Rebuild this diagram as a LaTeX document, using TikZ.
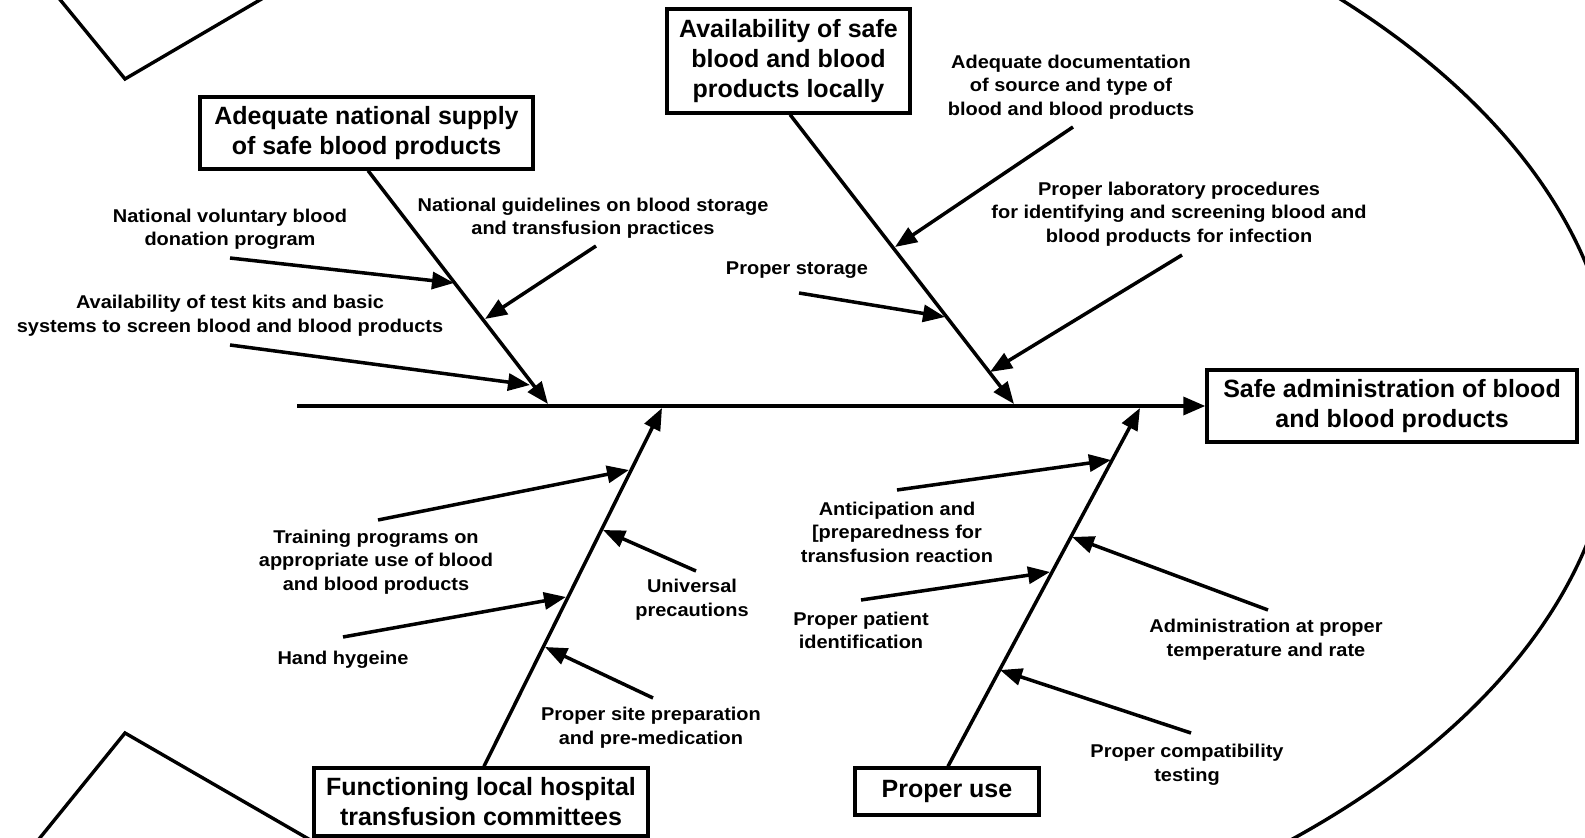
\documentclass[tikz,border=0pt]{standalone}
\usepackage{fontspec}
\setmainfont{Liberation Sans}
\newfontfamily\lblfam[FakeStretch=1.08]{Liberation Sans Bold}
\newfontfamily\boxfam{Liberation Sans Bold}
\usetikzlibrary{arrows.meta}
\tikzset{
  box/.style={draw, line width=1.7pt, inner sep=0pt, align=center,
    font=\boxfam\fontsize{12.5pt}{15pt}\selectfont},
  lbl/.style={align=center, inner sep=0pt, yshift=-1pt,
    font=\lblfam\fontsize{9.25pt}{11.75pt}\selectfont},
  bone/.style={line width=1.75pt, -{Triangle[length=11pt,width=8.5pt]}},
  cause/.style={line width=1.75pt, -{Triangle[length=11pt,width=8.5pt]}},
  outline/.style={line width=1.7pt, line join=miter},
}
\begin{document}
\begin{tikzpicture}[x=0.5pt,y=-0.5pt]
\useasboundingbox (0,0) rectangle (1585,838);
\clip (0,0) rectangle (1585,838);
\fill[white] (0,0) rectangle (1585,838);

% fish outline
\draw[outline] (573,405) ellipse [x radius=1042, y radius=600];
\draw[outline] (44,-20) -- (125,79) -- (294,-20);
\draw[outline] (22,860) -- (125,733) -- (345,860);

% boxes
\node[box, minimum width=166.5pt, minimum height=36pt] (A) at (366.5,133)
  {Adequate national supply\\of safe blood products};
\node[box, minimum width=121.5pt, minimum height=52pt] (B) at (788.5,61)
  {Availability of safe\\blood and blood\\products locally};
\node[box, minimum width=167pt, minimum height=34pt] (C) at (481,802)
  {Functioning local hospital\\transfusion committees};
\node[box, minimum width=92pt, minimum height=23.5pt] (D) at (947,791.5)
  {Proper use};
\node[box, minimum width=185pt, minimum height=36pt] (E) at (1392,406)
  {Safe administration of blood\\and blood products};

% spine and bones
\coordinate (spL) at (297,406);
\coordinate (sA) at (548,404);
\coordinate (sB) at (1014,404);
\coordinate (sC) at (662,408);
\coordinate (sD) at (1140,408);
\draw[line width=1.75pt, -{Triangle[length=11pt,width=9pt]}] (spL) -- (E.west);
\draw[bone] ([xshift=0.8pt]A.south) -- (sA);
\draw[bone] ([xshift=0.8pt]B.south) -- (sB);
\draw[bone] ([xshift=1.5pt]C.north) -- (sC);
\draw[bone] ([xshift=0.5pt]D.north) -- (sD);

% labels
\node[lbl] (l1) at (230,227.5) {National voluntary blood\\donation program};
\node[lbl] (l2) at (230,313.5) {Availability of test kits and basic\\systems to screen blood and blood products};
\node[lbl] (l3) at (593,216) {National guidelines on blood storage\\and transfusion practices};
\node[lbl] (l4) at (1071,85) {Adequate documentation\\of source and type of\\blood and blood products};
\node[lbl] (l5) at (1179,212) {Proper laboratory procedures\\for identifying and screening blood and\\blood products for infection};
\node[lbl] (l6) at (797,268) {Proper storage};
\node[lbl] (l7) at (376,560) {Training programs on\\appropriate use of blood\\and blood products};
\node[lbl] (l8) at (343,658) {Hand hygeine};
\node[lbl] (l9) at (692,597.5) {Universal\\precautions};
\node[lbl] (l10) at (651,725.5) {Proper site preparation\\and pre-medication};
\node[lbl] (l11) at (897,530) {Anticipation and\\{[}preparedness for\\transfusion reaction};
\node[lbl] (l12) at (861,628.5) {Proper patient\\identification};
\node[lbl] (l13) at (1266,637.5) {Administration at proper\\temperature and rate};
\node[lbl] (l14) at (1187,763) {Proper compatibility\\testing};

% cause arrows
\coordinate (c1s) at (230,258);   \coordinate (c1e) at (454,283);
\coordinate (c2s) at (230,345);   \coordinate (c2e) at (530,385);
\coordinate (c3s) at (596,246);   \coordinate (c3e) at (485,319);
\coordinate (c4s) at (1073,127);  \coordinate (c4e) at (895,247);
\coordinate (c5s) at (799,293);   \coordinate (c5e) at (945,317);
\coordinate (c6s) at (1182,255);  \coordinate (c6e) at (990,372);
\coordinate (c7s) at (378,520);   \coordinate (c7e) at (629,470);
\coordinate (c8s) at (343,637);   \coordinate (c8e) at (566,597);
\coordinate (c9s) at (696,571);   \coordinate (c9e) at (603,530);
\coordinate (c10s) at (653,698);  \coordinate (c10e) at (545,647);
\coordinate (c11s) at (897,490);  \coordinate (c11e) at (1111,460);
\coordinate (c12s) at (861,600);  \coordinate (c12e) at (1050,572);
\coordinate (c13s) at (1268,610); \coordinate (c13e) at (1072,537);
\coordinate (c14s) at (1191,733); \coordinate (c14e) at (1000,670);
\foreach \i in {1,...,14} {\draw[cause] (c\i s) -- (c\i e);}
\end{tikzpicture}
\end{document}
